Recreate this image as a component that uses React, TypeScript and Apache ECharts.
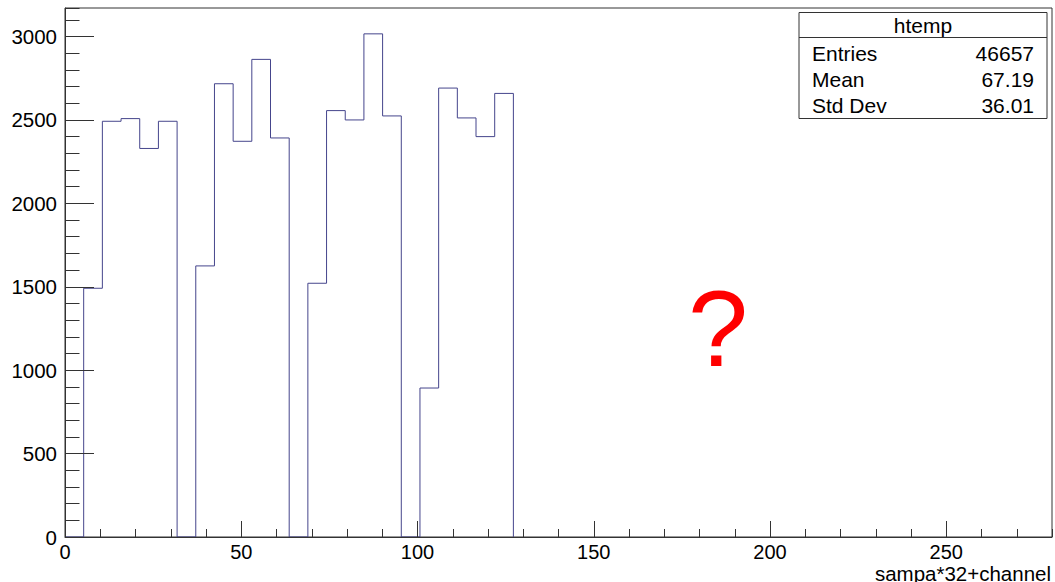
import React, { useEffect, useRef } from "react";
import * as echarts from "echarts";

// Histogram definition (bins start at 0, constant width)
const binWidth = 5.3;
const binCounts = [
  0, 1491, 2492, 2508, 2329, 2492, 0, 1625, 2717, 2372, 2863, 2392, 0, 1521,
  2556, 2500, 3016, 2524, 0, 893, 2691, 2512, 2400, 2659,
];
const xMin = 0;
const xMax = 280;
const yMin = 0;
const yMax = 3171;
const xMajorStep = 50;
const xMinorStep = 10;
const yMajorStep = 500;
const yMinorStep = 100;

const statsTitle = "htemp";
const statsLabels = ["Entries", "Mean", "Std Dev"];
const statsValues = ["46657", "67.19", "36.01"];
const xAxisTitle = "sampa*32+channel";
const annotation = "?";

const FONT = "'Liberation Sans', Arial, Helvetica, sans-serif";
const AXIS_COLOR = "#333";
const HIST_COLOR = "#45458c";

export default function App() {
  const ref = useRef<HTMLDivElement>(null);

  useEffect(() => {
    if (!ref.current) return;
    const chart = echarts.init(ref.current, undefined, { renderer: "svg" });

    const histData: number[][] = binCounts.map((c, i) => [i * binWidth, c]);
    histData.push([binCounts.length * binWidth, 0]);

    const gridLeft = 65;
    const gridTop = 8;
    const gridW = 987;
    const gridH = 529;

    const boxX = 799;
    const boxY = 12.5;
    const boxW = 248;
    const boxH = 106;
    const rowH = 26;
    const statFont = 21;

    const statsGraphics: any[] = [
      {
        type: "rect",
        shape: { x: boxX, y: boxY, width: boxW, height: boxH },
        style: { fill: "#fff", stroke: AXIS_COLOR, lineWidth: 1 },
        z: 10,
      },
      {
        type: "line",
        shape: { x1: boxX, y1: 37.5, x2: boxX + boxW, y2: 37.5 },
        style: { stroke: AXIS_COLOR, lineWidth: 1 },
        z: 10,
      },
      {
        type: "text",
        x: boxX + boxW / 2,
        y: 25,
        style: {
          text: statsTitle,
          fontSize: statFont,
          fontFamily: FONT,
          fill: "#000",
          align: "center",
          verticalAlign: "middle",
        },
        z: 11,
      },
    ];
    statsLabels.forEach((lab, i) => {
      const y = 53 + i * rowH;
      statsGraphics.push({
        type: "text",
        x: 812,
        y,
        style: {
          text: lab,
          fontSize: statFont,
          fontFamily: FONT,
          fill: "#000",
          align: "left",
          verticalAlign: "middle",
        },
        z: 11,
      });
      statsGraphics.push({
        type: "text",
        x: 1034,
        y,
        style: {
          text: statsValues[i],
          fontSize: statFont,
          fontFamily: FONT,
          fill: "#000",
          align: "right",
          verticalAlign: "middle",
        },
        z: 11,
      });
    });

    const plain = (v: number) => String(v);

    const option: any = {
      animation: false,
      backgroundColor: "#fff",
      grid: {
        left: gridLeft,
        top: gridTop,
        width: gridW,
        height: gridH,
        show: true,
        borderColor: AXIS_COLOR,
        borderWidth: 1,
        backgroundColor: "transparent",
        containLabel: false,
      },
      xAxis: [
        {
          type: "value",
          min: xMin,
          max: xMax,
          interval: xMajorStep,
          position: "bottom",
          z: 3,
          axisLine: { show: true, lineStyle: { color: AXIS_COLOR, width: 1 } },
          axisTick: { show: true, inside: true, length: 16, lineStyle: { color: AXIS_COLOR } },
          minorTick: { show: false },
          splitLine: { show: false },
          axisLabel: {
            show: true,
            margin: 5,
            fontSize: 20,
            fontFamily: FONT,
            color: "#000",
            showMaxLabel: false,
            formatter: plain,
          },
        },
        {
          type: "value",
          min: xMin,
          max: xMax,
          interval: xMinorStep,
          position: "bottom",
          z: 3,
          axisLine: { show: false },
          axisTick: { show: true, inside: true, length: 8, lineStyle: { color: AXIS_COLOR } },
          splitLine: { show: false },
          axisLabel: { show: false },
        },
      ],
      yAxis: [
        {
          type: "value",
          min: yMin,
          max: yMax,
          interval: yMajorStep,
          position: "left",
          z: 3,
          axisLine: { show: true, lineStyle: { color: AXIS_COLOR, width: 1 } },
          axisTick: { show: true, inside: true, length: 29, lineStyle: { color: AXIS_COLOR } },
          splitLine: { show: false },
          axisLabel: {
            show: true,
            margin: 8,
            fontSize: 20.5,
            fontFamily: FONT,
            color: "#000",
            showMaxLabel: false,
            formatter: plain,
          },
        },
        {
          type: "value",
          min: yMin,
          max: yMax,
          interval: yMinorStep,
          position: "left",
          z: 3,
          axisLine: { show: false },
          axisTick: { show: true, inside: true, length: 14.5, lineStyle: { color: AXIS_COLOR } },
          splitLine: { show: false },
          axisLabel: { show: false },
        },
      ],
      series: [
        {
          type: "line",
          name: statsTitle,
          xAxisIndex: 0,
          yAxisIndex: 0,
          data: histData,
          step: "end",
          symbol: "none",
          lineStyle: { color: HIST_COLOR, width: 1 },
          z: 2,
          clip: false,
        },
      ],
      graphic: [
        ...statsGraphics,
        {
          type: "text",
          x: 1051,
          y: 573.5,
          style: {
            text: xAxisTitle,
            fontSize: 20.5,
            fontFamily: FONT,
            fill: "#000",
            align: "right",
            verticalAlign: "middle",
          },
        },
        {
          type: "text",
          x: 718,
          y: 328,
          style: {
            text: annotation,
            fontSize: 108,
            fontFamily: FONT,
            fill: "#ff0000",
            align: "center",
            verticalAlign: "middle",
          },
        },
      ],
    };

    chart.setOption(option);
    return () => chart.dispose();
  }, []);

  return (
    <div
      ref={ref}
      style={{
        position: "absolute",
        left: 0,
        top: 0,
        width: 1055,
        height: 582,
        background: "#fff",
      }}
    />
  );
}
